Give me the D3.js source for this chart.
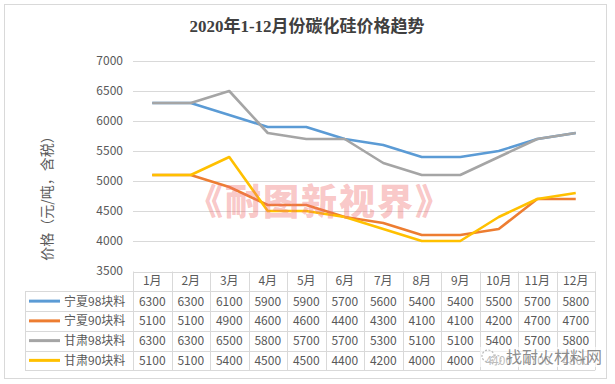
<!DOCTYPE html>
<html>
<head>
<meta charset="utf-8">
<script src="https://cdn.jsdelivr.net/npm/d3@7"></script>
<style>
  body { margin: 0; background: #fff; }
  svg { display: block; }
</style>
</head>
<body>
<script>
// chart data
var months = ["1月", "2月", "3月", "4月", "5月", "6月", "7月", "8月", "9月", "10月", "11月", "12月"];
var seriesNames = ["宁夏98块料", "宁夏90块料", "甘肃98块料", "甘肃90块料"];
var nx98 = [6300, 6300, 6100, 5900, 5900, 5700, 5600, 5400, 5400, 5500, 5700, 5800];
var nx90 = [5100, 5100, 4900, 4600, 4600, 4400, 4300, 4100, 4100, 4200, 4700, 4700];
var gs98 = [6300, 6300, 6500, 5800, 5700, 5700, 5300, 5100, 5100, 5400, 5700, 5800];
var gs90 = [5100, 5100, 5400, 4500, 4500, 4400, 4200, 4000, 4000, 4400, 4700, 4800];
var yTicks = [3500, 4000, 4500, 5000, 5500, 6000, 6500, 7000];

var colors = ["#5b9bd5", "#ed7d31", "#a5a5a5", "#ffc000"];
var allSeries = [nx98, nx90, gs98, gs90];

var width = 615, height = 384;
var plotLeft = 133, plotRight = 595, plotTop = 61, plotBottom = 271;
var legendLeft = 25;
var rowH = 19.75;
var font = "'Noto Sans CJK SC', 'Noto Sans', sans-serif";
var textColor = "#595959";
var gridColor = "#d9d9d9";

var svg = d3.select("body").append("svg")
  .attr("width", width)
  .attr("height", height);

// outer border
svg.append("rect")
  .attr("x", 4.5).attr("y", 4.5)
  .attr("width", 602).attr("height", 374)
  .style("fill", "#fff")
  .style("stroke", gridColor)
  .style("stroke-width", 1);

var x = d3.scaleBand().domain(months).range([plotLeft, plotRight]);
var y = d3.scaleLinear().domain([3500, 7000]).range([plotBottom, plotTop]);

// title
svg.append("text")
  .attr("x", 307).attr("y", 32)
  .attr("text-anchor", "middle")
  .style("font-family", "'Liberation Serif', 'Noto Sans CJK SC', serif")
  .style("font-weight", "bold")
  .style("font-size", "17px")
  .style("fill", "#404040")
  .text("2020年1-12月份碳化硅价格趋势");

// gridlines
svg.selectAll(".grid")
  .data(yTicks.slice(1))
  .enter().append("line")
  .attr("class", "grid")
  .attr("x1", plotLeft).attr("x2", plotRight)
  .attr("y1", function(d) { return Math.round(y(d)) + 0.5; })
  .attr("y2", function(d) { return Math.round(y(d)) + 0.5; })
  .style("stroke", gridColor)
  .style("stroke-width", 1);

// y axis labels
var yAxis = d3.axisLeft(y).tickValues(yTicks).tickFormat(d3.format("d")).tickSize(0).tickPadding(10);
var yg = svg.append("g")
  .attr("transform", "translate(" + plotLeft + ",0)")
  .call(yAxis);
yg.select(".domain").remove();
yg.selectAll("text")
  .style("font-family", font)
  .style("font-size", "12px")
  .style("fill", textColor);

// y axis title
svg.append("text")
  .attr("transform", "translate(52,195) rotate(-90)")
  .attr("text-anchor", "middle")
  .style("font-family", font)
  .style("font-size", "14px")
  .style("fill", textColor)
  .text("价格（元/吨，含税）");

// lines
var line = d3.line()
  .x(function(d, i) { return x(months[i]) + x.bandwidth() / 2; })
  .y(function(d) { return y(d); });

svg.selectAll(".series")
  .data(allSeries)
  .enter().append("path")
  .attr("class", "series")
  .attr("d", line)
  .style("fill", "none")
  .style("stroke", function(d, i) { return colors[i]; })
  .style("stroke-width", 2.6)
  .style("stroke-linejoin", "round");

// watermark
svg.append("text")
  .attr("x", 320).attr("y", 215)
  .attr("text-anchor", "middle")
  .style("font-family", font)
  .style("font-weight", "900")
  .style("font-size", "36px")
  .style("letter-spacing", "2px")
  .style("fill", "#f07070")
  .style("fill-opacity", 0.4)
  .text("《耐图新视界》");

//=============//
// Data table  //
//=============//
var tableTop = plotBottom + 0.5;
var tableBottom = tableTop + rowH * 5;

var tg = svg.append("g").style("stroke", gridColor).style("stroke-width", 1);

// horizontal lines
d3.range(6).forEach(function(r) {
  var yy = Math.round(tableTop + r * rowH) + 0.5;
  tg.append("line")
    .attr("x1", r === 0 ? plotLeft : legendLeft)
    .attr("x2", plotRight)
    .attr("y1", yy).attr("y2", yy);
});
// vertical lines
tg.append("line")
  .attr("x1", legendLeft + 0.5).attr("x2", legendLeft + 0.5)
  .attr("y1", tableTop + rowH).attr("y2", tableBottom);
d3.range(13).forEach(function(c) {
  var xx = Math.round(plotLeft + c * x.bandwidth()) + 0.5;
  tg.append("line")
    .attr("x1", xx).attr("x2", xx)
    .attr("y1", tableTop).attr("y2", tableBottom);
});

// header
svg.selectAll(".hdr")
  .data(months)
  .enter().append("text")
  .attr("class", "hdr")
  .attr("x", function(d) { return x(d) + x.bandwidth() / 2; })
  .attr("y", tableTop + rowH / 2 + 4)
  .attr("text-anchor", "middle")
  .style("font-family", font)
  .style("font-size", "12px")
  .style("fill", textColor)
  .text(function(d) { return d; });

// rows
allSeries.forEach(function(vals, r) {
  var cy = tableTop + rowH * (r + 1) + rowH / 2;
  svg.append("line")
    .attr("x1", 29).attr("x2", 60)
    .attr("y1", cy).attr("y2", cy)
    .style("stroke", colors[r])
    .style("stroke-width", 3);
  svg.append("text")
    .attr("x", 64).attr("y", cy + 4.5)
    .style("font-family", font)
    .style("font-size", "12px")
    .style("fill", textColor)
    .text(seriesNames[r]);
  svg.selectAll(".cell" + r)
    .data(vals)
    .enter().append("text")
    .attr("x", function(d, i) { return x(months[i]) + x.bandwidth() / 2; })
    .attr("y", cy + 4.5)
    .attr("text-anchor", "middle")
    .style("font-family", font)
    .style("font-size", "12px")
    .style("fill", textColor)
    .text(function(d) { return d; });
});

// bottom right source mark
var wm = svg.append("g").attr("transform", "translate(480,357)");
wm.append("rect")
  .attr("x", 0).attr("y", -10).attr("width", 116).attr("height", 20)
  .style("fill", "#fff").style("fill-opacity", 0.6);
wm.append("circle").attr("cx", 8).attr("cy", -1).attr("r", 6)
  .style("fill", "none").style("stroke", "#bbb").style("stroke-width", 1.2)
  .style("stroke-dasharray", "2,1.5");
wm.append("circle").attr("cx", 16).attr("cy", 3).attr("r", 5)
  .style("fill", "none").style("stroke", "#bbb").style("stroke-width", 1.2)
  .style("stroke-dasharray", "2,1.5");
wm.append("text")
  .attr("x", 26).attr("y", 6)
  .style("font-family", font)
  .style("font-size", "16px")
  .style("fill", "#777")
  .style("fill-opacity", 0.85)
  .text("找耐火材料网");
</script>
</body>
</html>
